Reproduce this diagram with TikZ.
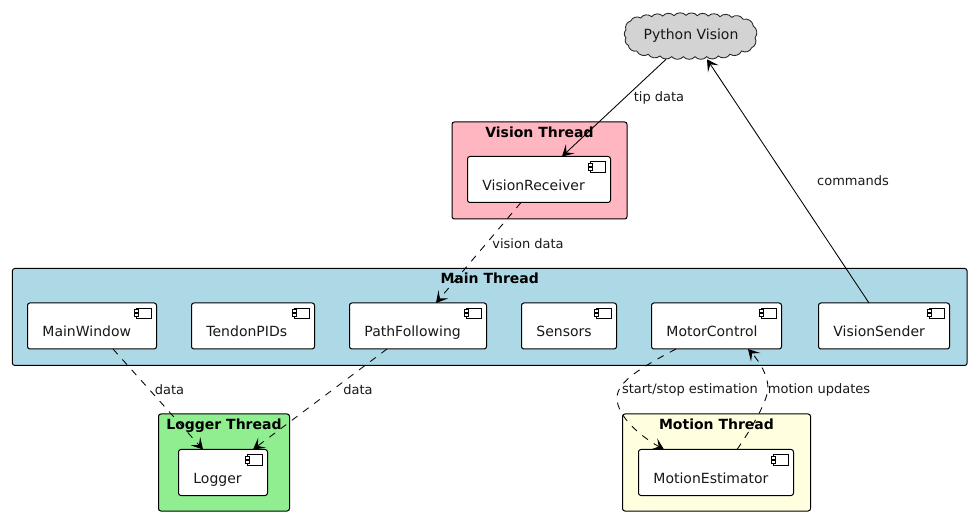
\documentclass[tikz,border=0pt]{standalone}
\usepackage{xcolor}
\usepackage{fontspec}
\setmainfont{DejaVu Sans}
\usetikzlibrary{arrows.meta}
\definecolor{visionpink}{RGB}{255, 182, 193}
\definecolor{mainblue}{RGB}{173, 216, 230}
\definecolor{loggergreen}{RGB}{144, 238, 144}
\definecolor{motionyellow}{RGB}{255, 255, 224}
\definecolor{cloudgray}{RGB}{211, 211, 211}
\definecolor{inkgray}{RGB}{24, 24, 24}
\tikzset{
  threadbox/.style={draw=black, line width=0.75pt, rounded corners=1.8pt, outer sep=0pt, inner sep=0pt},
  threadtitle/.style={font=\fontsize{10.5}{12}\bfseries, text=black, anchor=north, inner sep=0pt, yshift=-3.2pt},
  compbox/.style={draw=black, line width=0.75pt, fill=white, rounded corners=1.8pt, outer sep=0pt,
    inner xsep=11.2pt, inner ysep=0pt, minimum height=34.5pt, text height=16.5pt, text depth=0pt,
    align=left, text width=#1*0.75pt-22.4pt, font=\fontsize{10.5}{12}\selectfont, text=inkgray},
  edgetext/.style={font=\fontsize{9.75}{12}\selectfont, text=inkgray, inner sep=0pt},
  tip/.tip={Stealth[length=8.5pt, width=9.5pt, inset=4pt]},
  flow/.style={-tip, line width=0.65pt, black},
  dashflow/.style={flow, dash pattern=on 5.25pt off 5.25pt},
}
\begin{document}
\begin{tikzpicture}[x=0.75pt, y=-0.75pt]
\useasboundingbox (0,0) rectangle (971,516);
% Thread frames
\node[threadbox, fill=visionpink, minimum width=131.25pt, minimum height=72.75pt, label={[threadtitle]90:Vision Thread}] (visionThread) at (539.5,170.5) {};
\node[threadbox, fill=mainblue, minimum width=716pt, minimum height=72.75pt, label={[threadtitle]90:Main Thread}] (mainThread) at (489.75,317) {};
\node[threadbox, fill=loggergreen, minimum width=98.25pt, minimum height=72.75pt, label={[threadtitle]90:Logger Thread}] (loggerThread) at (224,462.5) {};
\node[threadbox, fill=motionyellow, minimum width=141pt, minimum height=72.75pt, label={[threadtitle]90:Motion Thread}] (motionThread) at (716.5,462.5) {};

% Python side
\draw[black!85, fill=cloudgray, line width=0.65pt] (626,30)
  \foreach \px/\py in {630.7/21,640.7/18,651.7/16.7,662.7/16,674/15.7,686/15.3,697.3/15.7,708.3/16,720/16.7,731.7/17.3,743.3/19.3,753.3/26,755/37.7,751.7/47.7,741.7/51,730/54.3,718.3/56,706.7/56.7,695/56.7,683.3/56.7,671.7/56.7,660/56,648.3/54.3,636.7/51,628.3/45.3,626/37.7,626/30} {
    to[bend left=50] (\px,\py)
  } -- cycle;
\node[minimum width=98pt, minimum height=35pt, inner sep=0pt, outer sep=0pt, font=\fontsize{10.5}{12}\selectfont, text=inkgray] (pythonVision) at (691,36) {Python Vision};

% Components
\node[compbox=143] (visionReceiver) at (539,179.5) {VisionReceiver};
\node[compbox=129] (mainWindow) at (92,326) {MainWindow};
\node[compbox=123] (tendonPIDs) at (253,326) {TendonPIDs};
\node[compbox=137] (pathFollowing) at (418,326) {PathFollowing};
\node[compbox=95] (sensors) at (569,326) {Sensors};
\node[compbox=130] (motorControl) at (716.5,326) {MotorControl};
\node[compbox=131] (visionSender) at (884,326) {VisionSender};
\node[compbox=89] (logger) at (223,472.5) {Logger};
\node[compbox=155] (motionEstimator) at (716,472.5) {MotionEstimator};

% Component icons
\foreach \comp in {visionReceiver,mainWindow,tendonPIDs,pathFollowing,sensors,motorControl,visionSender,logger,motionEstimator} {
  \draw[line width=0.75pt, fill=white] ([xshift=-14.85pt,yshift=-4pt]\comp.north east) rectangle ++(15,10.4);
  \draw[line width=0.75pt, fill=white] ([xshift=-16.65pt,yshift=-5.25pt]\comp.north east) rectangle ++(4.4,2.7);
  \draw[line width=0.75pt, fill=white] ([xshift=-16.65pt,yshift=-8.25pt]\comp.north east) rectangle ++(4.4,2.7);
}

% Connectors
\draw[flow] ([xshift=-18.75pt]pythonVision.south) -- ([xshift=17.25pt]visionReceiver.north);
\draw[flow] ([xshift=-11.25pt]visionSender.north) -- ([xshift=12pt]pythonVision.south);
\draw[dashflow] ([xshift=-13.5pt]visionReceiver.south) -- ([xshift=13.5pt]pathFollowing.north);
\draw[dashflow] ([xshift=15.75pt]mainWindow.south) -- ([xshift=-15pt]logger.north);
\draw[dashflow] ([xshift=-23.25pt]pathFollowing.south) -- ([xshift=22.5pt]logger.north);
\draw[dashflow] ([xshift=-30.4pt]motorControl.south) .. controls (640,368) and (617,382) .. (617,398) .. controls (617,416) and (640,436) .. ([xshift=-39pt]motionEstimator.north);
\draw[dashflow] ([xshift=15.75pt]motionEstimator.north) .. controls (752,428) and (768,400) .. (768,388) .. controls (768,376) and (760,362) .. ([xshift=23.6pt]motorControl.south);

% Connector labels
\node[edgetext] (tipLabel) at (659,98) {tip data};
\node[edgetext] (commandsLabel) at (853,181) {commands};
\node[edgetext] (visionLabel) at (528,244) {vision data};
\node[edgetext] (dataLabelA) at (169.5,390) {data};
\node[edgetext] (dataLabelB) at (358,390) {data};
\node[edgetext] (startLabel) at (690,390) {start/stop estimation};
\node[edgetext] (motionLabel) at (819,390) {motion updates};
\end{tikzpicture}
\end{document}
